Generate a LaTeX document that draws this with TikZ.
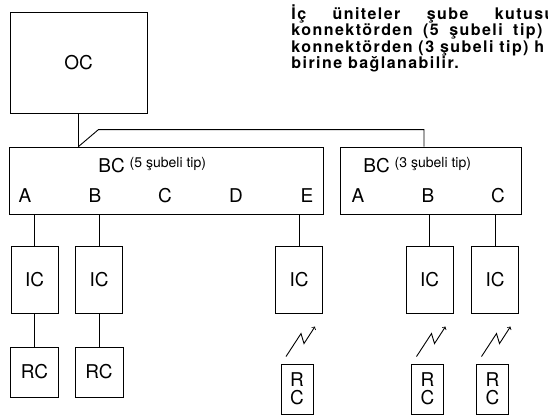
\documentclass[tikz,border=0pt]{standalone}
\usepackage{fontspec}
\setmainfont{TeX Gyre Heros}
\newfontfamily\notefont[LetterSpace=9]{TeX Gyre Heros}
\usetikzlibrary{calc}

\newcommand{\zap}[1]{\draw[->] ($(#1.north)+(-11,-7)$) -- ++(15,-23) -- ++(3,10) -- ++(11,-17);}

\begin{document}
\begin{tikzpicture}[x=1pt, y=-1pt, line width=0.9pt, >=to,
  box/.style={draw, inner sep=0pt, font=\fontsize{19}{20}\selectfont},
  unit/.style={box, minimum width=47pt, minimum height=67pt},
  remote/.style={box, minimum width=48pt, minimum height=50pt},
  minirc/.style={box, minimum width=32pt, minimum height=50pt, align=center},
  port/.style={anchor=base, inner sep=0pt, font=\fontsize{19}{20}\selectfont},
  kind/.style={anchor=base west, inner sep=0pt, font=\fontsize{14}{15}\selectfont},
  note/.style={anchor=base west, inner sep=0pt, font=\notefont\bfseries\fontsize{16}{17}\selectfont}]
 \useasboundingbox (0,0) rectangle (548,415);
 \clip (0,0) rectangle (548,415);

 % note at the top right
 \node [note] (line1) at (291,19) {\makebox[263pt][s]{İç üniteler şube kutusu}};
 \node [note] (line2) at (291,35.5) {\makebox[251pt][s]{konnektörden (5 şubeli tip)}};
 \node [note] (line3) at (291,52) {konnektörden (3 şubeli tip) h};
 \node [note] (line4) at (291,68.5) {birine bağlanabilir.};

 % outdoor unit and branch boxes
 \node [box, minimum width=137pt, minimum height=101pt] (oc) at (78.5,62.5) {OC};
 \node [box, minimum width=314pt, minimum height=67pt] (bcfive) at (166,180.5) {};
 \node [box, minimum width=181pt, minimum height=67pt] (bcthree) at (430.5,180.5) {};

 \node [port, anchor=base west] (bcfivename) at (98,172) {BC};
 \node [kind] (bcfivekind) at ([xshift=4pt,yshift=5pt]bcfivename.base east) {(5 şubeli tip)};
 \node [port, anchor=base west] (bcthreename) at (363,172) {BC};
 \node [kind] (bcthreekind) at ([xshift=4pt,yshift=5pt]bcthreename.base east) {(3 şubeli tip)};

 \node [port] (fiveA) at (25,202) {A};
 \node [port] (fiveB) at (95,202) {B};
 \node [port] (fiveC) at (165,202) {C};
 \node [port] (fiveD) at (236,202) {D};
 \node [port] (fiveE) at (307,202) {E};
 \node [port] (threeA) at (358,202) {A};
 \node [port] (threeB) at (428,202) {B};
 \node [port] (threeC) at (498,202) {C};

 % indoor units
 \node [unit] (icA) at (34.5,279.5) {IC};
 \node [unit] (icB) at (99,279.5) {IC};
 \node [unit] (icE) at (299,279.5) {IC};
 \node [unit] (icthreeB) at (429.5,279.5) {IC};
 \node [unit] (icthreeC) at (495,279.5) {IC};

 % remote controllers
 \node [remote] (rcA) at (34.5,372) {RC};
 \node [remote] (rcB) at (99,372) {RC};
 \node [minirc] (rcE) at (297,389) {R\\[-2pt]C};
 \node [minirc] (rcthreeB) at (427.5,389) {R\\[-2pt]C};
 \node [minirc] (rcthreeC) at (492.5,389) {R\\[-2pt]C};

 % piping
 \coordinate (split) at (oc.south |- bcfive.north);
 \draw (oc.south) -- (split);
 \draw (split) -- ++(20,-17) -| ([xshift=-6.5pt]bcthree.north);

 \foreach \ic/\bc in {icA/bcfive, icB/bcfive, icE/bcfive, icthreeB/bcthree, icthreeC/bcthree}
  \draw (\ic.north) -- (\ic.north |- \bc.south);

 \draw (icA) -- (rcA);
 \draw (icB) -- (rcB);

 % wireless
 \zap{rcE}
 \zap{rcthreeB}
 \zap{rcthreeC}
\end{tikzpicture}
\end{document}
